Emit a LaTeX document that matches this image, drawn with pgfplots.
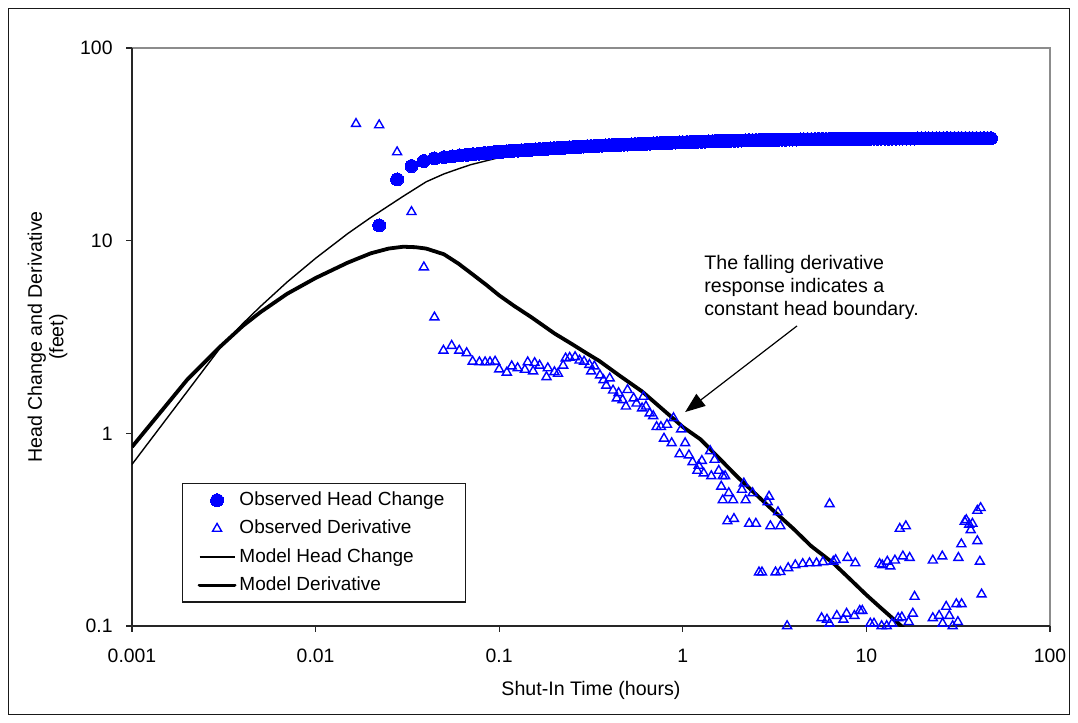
\documentclass[border=0pt]{standalone}
\usepackage{fontspec}
\setmainfont{Liberation Sans}
\usepackage{pgfplots}
\pgfplotsset{compat=1.18}
\usetikzlibrary{arrows.meta}
\definecolor{obsblue}{RGB}{0,0,255}
\begin{document}
\begin{tikzpicture}
\useasboundingbox (0,0) rectangle (539pt,361.5pt);
\draw[line width=0.65pt, black!90] (4.25pt,4.25pt) rectangle (534.75pt,357.25pt);
\begin{axis}[
  at={(66pt,48.5pt)}, anchor=south west,
  scale only axis, width=459pt, height=289pt,
  xmode=log, ymode=log,
  xmin=0.001, xmax=100, ymin=0.1, ymax=100,
  axis lines=left, axis line style={-, black!85, line width=0.65pt},
  axis background/.style={draw=black!45, line width=0.65pt},
  xtick={0.001,0.01,0.1,1,10,100},
  xticklabels={\mbox{0.001},\mbox{0.01},\mbox{0.1},\mbox{1},\mbox{10},\mbox{100}},
  ytick={0.1,1,10,100},
  yticklabels={\mbox{0.1},\mbox{1},\mbox{10},\mbox{100}},
  xminorticks=false, yminorticks=false,
  tick align=outside, major tick length=3pt,
  tick style={black!85, line width=0.65pt},
  ticklabel style={font=\fontsize{9.7}{11}\selectfont},
  yticklabel style={xshift=-3.2pt},
  xticklabel style={yshift=-5pt},
  xlabel={Shut-In Time (hours)},
  ylabel={Head Change and Derivative\\(feet)},
  label style={font=\fontsize{9.8}{10.8}\selectfont},
  xlabel style={at={(axis description cs:0.5,-0.111)}, anchor=center},
  ylabel style={at={(axis description cs:-0.092,0.5)}, anchor=center, align=center},
  clip mode=individual,
  legend style={at={(0.0545,0.2474)}, anchor=north west, draw=black!90, line width=0.65pt,
    font=\fontsize{9.5}{11}\selectfont, inner xsep=7.5pt, inner ysep=3.8pt,
    nodes={inner sep=0pt, text height=7pt, text depth=2pt},
    row sep=5.2pt, column sep=1.5pt},
  legend cell align=left,
  legend image code/.code={\draw[mark repeat=2,mark phase=2,#1] plot coordinates {(0pt,0pt) (8.75pt,0pt) (17.5pt,0pt)};},
]
% Model Head Change (thin)
\addplot[black, line width=0.7pt, forget plot] coordinates {
(0.001,0.69) (0.002,1.65) (0.003,2.75) (0.004,3.7) (0.005,4.55) (0.007,6.1)
(0.01,8.1) (0.015,10.9) (0.02,13.2) (0.03,17.0) (0.04,20.2) (0.05,22.2)
(0.06,23.6) (0.07,24.8) (0.1,27.0) (0.15,28.8) (0.2,29.9) (0.3,30.8)
(0.5,31.6) (1,32.3) (2,33.0) (5,33.6) (10,33.8) (47.7,34.0)};
% Model Derivative (thick)
\addplot[black, line width=1.9pt, line join=round, forget plot] coordinates {
(0.001,0.85) (0.002,1.9) (0.003,2.8) (0.004,3.6) (0.005,4.25) (0.007,5.3)
(0.01,6.4) (0.015,7.7) (0.02,8.6) (0.025,9.1) (0.03,9.3) (0.035,9.25)
(0.04,9.1) (0.05,8.5) (0.06,7.6) (0.07,6.8) (0.085,5.9) (0.1,5.2)
(0.12,4.6) (0.15,4.0) (0.2,3.3) (0.25,2.9) (0.3,2.6) (0.35,2.38)
(0.45,2.0) (0.6,1.65) (0.8,1.3) (1.0,1.08) (1.25,0.93) (1.5,0.78)
(2.0,0.59) (3.0,0.41) (4.0,0.32) (5.0,0.26) (6.6,0.212) (8,0.178)
(10,0.145) (12,0.124) (15.5,0.1) (20,0.078)};
% Observed Head Change
\addplot[only marks, mark=*, mark size=3.25pt, mark options={fill=obsblue, draw=obsblue, line width=0pt}] coordinates {
(0.0222,12.0) (0.0278,20.8) (0.0333,24.4) (0.0389,25.9) (0.0444,26.7)
(0.05,27.1) (0.0556,27.4) (0.0611,27.7) (0.0667,27.9) (0.0722,28.1)
(0.0778,28.3) (0.0833,28.5) (0.0889,28.6) (0.0944,28.8) (0.1,28.9)
(0.105,29.0) (0.11,29.1) (0.115,29.2) (0.12,29.3) (0.126,29.35)
(0.132,29.45) (0.138,29.5) (0.145,29.6) (0.151,29.7) (0.158,29.75)
(0.166,29.85) (0.174,29.9) (0.182,30.0) (0.191,30.1) (0.2,30.2)
(0.209,30.25) (0.219,30.35) (0.229,30.4) (0.24,30.5) (0.251,30.55)
(0.263,30.65) (0.275,30.7) (0.288,30.8) (0.302,30.9) (0.316,30.95)
(0.331,31.0) (0.347,31.1) (0.363,31.15) (0.38,31.2) (0.398,31.3)
(0.417,31.35) (0.437,31.4) (0.457,31.45) (0.479,31.5) (0.501,31.55)
(0.525,31.6) (0.55,31.7) (0.575,31.75) (0.603,31.8) (0.631,31.85)
(0.661,31.9) (0.692,32.0) (0.724,32.05) (0.759,32.1) (0.794,32.15)
(0.832,32.2) (0.871,32.25) (0.912,32.3) (0.955,32.35) (1.0,32.4)
(1.05,32.45) (1.1,32.5) (1.15,32.55) (1.2,32.6) (1.26,32.65)
(1.32,32.7) (1.38,32.75) (1.45,32.8) (1.51,32.85) (1.58,32.9)
(1.66,32.95) (1.74,33.0) (1.82,33.0) (1.91,33.05) (2.0,33.1)
(2.09,33.1) (2.19,33.15) (2.29,33.2) (2.4,33.2) (2.51,33.25)
(2.63,33.3) (2.75,33.3) (2.88,33.35) (3.02,33.35) (3.16,33.4)
(3.31,33.4) (3.47,33.45) (3.63,33.45) (3.8,33.5) (3.98,33.5)
(4.17,33.5) (4.37,33.55) (4.57,33.55) (4.79,33.6) (5.01,33.6)
(5.25,33.6) (5.5,33.65) (5.75,33.65) (6.03,33.65) (6.31,33.7)
(6.61,33.7) (6.92,33.7) (7.24,33.7) (7.59,33.75) (7.94,33.75)
(8.32,33.75) (8.71,33.8) (9.12,33.8) (9.55,33.8) (10,33.8)
(10.5,33.8) (11,33.85) (11.5,33.85) (12,33.85) (12.6,33.85)
(13.2,33.85) (13.8,33.9) (14.5,33.9) (15.1,33.9) (15.8,33.9)
(16.6,33.9) (17.4,33.9) (18.2,33.9) (19.1,33.95) (20,33.95)
(20.9,33.95) (21.9,33.95) (22.9,33.95) (24,33.95) (25.1,33.95)
(26.3,34.0) (27.5,34.0) (28.8,34.0) (30.2,34.0) (31.6,34.0)
(33.1,34.0) (34.7,34.0) (36.3,34.0) (38,34.0) (39.8,34.0)
(41.7,34.0) (43.7,34.0) (45.7,34.0) (47.7,34.0)};
\addlegendentry{\makebox[105.5pt][l]{Observed Head Change}}
% Observed Derivative
\addplot[only marks, mark=triangle, mark size=2.6pt, mark options={draw=obsblue, line width=0.7pt}] coordinates {
(0.0166,40.4) (0.0222,39.8) (0.0278,28.8) (0.0333,14.1) (0.0389,7.28) (0.0444,4.0)
(0.0497,2.69) (0.0551,2.85) (0.0606,2.69) (0.0665,2.61) (0.0717,2.36) (0.078,2.34)
(0.0838,2.34) (0.0891,2.34) (0.095,2.36) (0.1,2.15) (0.11,2.07) (0.117,2.23)
(0.126,2.18) (0.138,2.14) (0.143,2.34) (0.153,2.10) (0.156,2.32) (0.166,2.25)
(0.181,1.96) (0.184,2.18) (0.2,2.08) (0.209,2.04) (0.223,2.25) (0.23,2.45)
(0.242,2.47) (0.259,2.49) (0.274,2.39) (0.29,2.36) (0.31,2.27) (0.317,2.10)
(0.33,2.23) (0.354,2.0) (0.37,1.89) (0.383,1.77) (0.4,1.93) (0.417,1.67)
(0.437,1.52) (0.447,1.62) (0.47,1.49) (0.49,1.38) (0.5,1.68) (0.54,1.52)
(0.56,1.43) (0.6,1.35) (0.61,1.55) (0.63,1.38) (0.66,1.27) (0.69,1.23)
(0.72,1.08) (0.76,1.08) (0.79,0.94) (0.82,1.11) (0.87,0.89) (0.89,1.2)
(0.96,0.78) (0.98,1.05) (1.03,0.89) (1.08,0.77) (1.13,0.71) (1.2,0.64)
(1.22,0.68) (1.27,0.72) (1.3,0.62) (1.41,0.81) (1.43,0.60) (1.49,0.73)
(1.57,0.64) (1.62,0.53) (1.65,0.60) (1.7,0.6) (1.75,0.35) (1.78,0.49)
(1.65,0.45) (1.88,0.45) (1.9,0.36) (2.1,0.51) (2.15,0.55) (2.2,0.45)
(2.3,0.34) (2.4,0.49) (2.5,0.34) (2.6,0.19) (2.7,0.19) (2.9,0.44)
(2.95,0.47) (3.0,0.33) (3.2,0.19) (3.3,0.39) (3.4,0.33) (3.4,0.191)
(3.7,0.1) (3.75,0.2) (4.1,0.207) (4.5,0.21) (4.9,0.212) (5.35,0.212)
(5.7,0.11) (5.8,0.215) (6.1,0.108) (6.3,0.43) (6.3,0.103) (6.6,0.216)
(6.8,0.22) (6.9,0.113) (7.5,0.108) (7.8,0.116) (7.9,0.226) (8.6,0.113)
(8.7,0.212) (9.2,0.12) (9.5,0.12) (10.5,0.103) (11.0,0.103) (11.8,0.21)
(12.1,0.1) (12.2,0.207) (12.9,0.1) (13.0,0.216) (13.5,0.204) (13.8,0.103)
(14.3,0.219) (14.9,0.11) (15.2,0.32) (15.6,0.111) (15.8,0.23) (16.4,0.33)
(17.0,0.105) (17.2,0.226) (17.9,0.116) (18.3,0.142) (23.0,0.219) (23.0,0.11)
(24.9,0.113) (25.9,0.23) (26,0.103) (27.2,0.126) (28.3,0.113) (29.5,0.1)
(30.9,0.13) (31.5,0.105) (31.7,0.226) (32.9,0.266) (33.0,0.13) (34.3,0.348)
(35.0,0.355) (36.3,0.336) (37.0,0.315) (37.8,0.34) (40.2,0.276) (40.2,0.397)
(41.5,0.216) (41.9,0.41) (42.4,0.146)};
\addlegendentry{Observed Derivative}
\addlegendimage{black, line width=0.7pt}
\addlegendentry{Model Head Change}
\addlegendimage{black, line width=1.9pt, line cap=round}
\addlegendentry{Model Derivative}
% annotation
\draw[line width=0.6pt, -{Triangle[length=10pt,width=7.5pt]}] (axis cs:4.19,3.61) -- (axis cs:1.03,1.29);
\node[anchor=west, align=left, inner sep=0pt, font=\fontsize{9.8}{11.5}\selectfont] at (axis cs:1.305,5.75) {The falling derivative\\response indicates a\\constant head boundary.};
\end{axis}
\end{tikzpicture}
\end{document}
